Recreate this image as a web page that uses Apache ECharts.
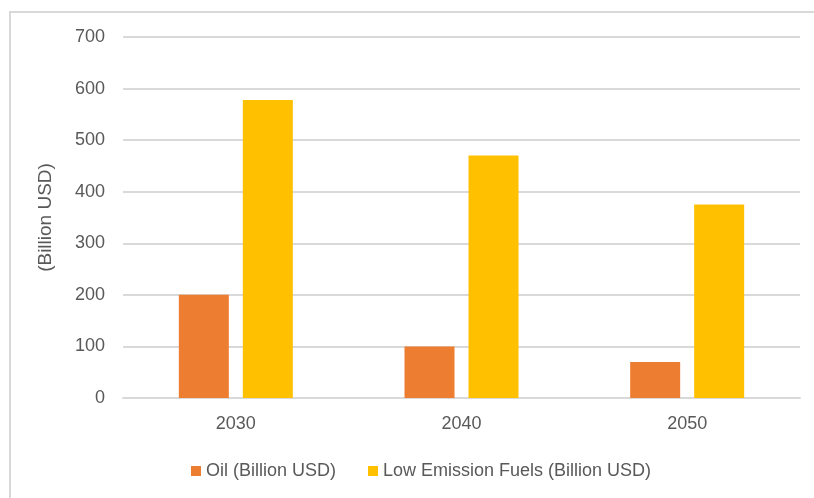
<!DOCTYPE html>
<html>
<head>
<meta charset="utf-8">
<script src="https://cdn.jsdelivr.net/npm/echarts@6/dist/echarts.min.js"></script>
<style>
html,body{margin:0;padding:0;background:#fff;}
#chart{width:814px;height:498px;}
</style>
</head>
<body>
<div id="chart"></div>
<script>
var categories = ['2030', '2040', '2050'];
var oilValues = [200, 100, 70];
var lowEmissionValues = [578, 470, 375];
var seriesNames = ['Oil (Billion USD)', 'Low Emission Fuels (Billion USD)'];
var yAxisTitle = '(Billion USD)';

var textColor = '#595959';
var fontFamily = '"Liberation Sans", Arial, sans-serif';
var chart = echarts.init(document.getElementById('chart'));
chart.setOption({
  backgroundColor: '#ffffff',
  animation: false,
  textStyle: { fontFamily: fontFamily, color: textColor },
  graphic: [{
    type: 'rect',
    shape: { x: 10, y: 12, width: 900, height: 600 },
    style: { fill: 'none', stroke: '#d9d9d9', lineWidth: 2 },
    silent: true,
    z: -1
  }],
  grid: { left: 123, right: 14, top: 37, bottom: 100 },
  legend: {
    data: seriesNames,
    left: 186,
    top: 457,
    itemWidth: 10,
    itemHeight: 10,
    itemGap: 32,
    icon: 'rect',
    textStyle: { color: textColor, fontSize: 18, fontFamily: fontFamily }
  },
  xAxis: {
    type: 'category',
    data: categories,
    axisLine: { lineStyle: { color: '#d9d9d9', width: 2 } },
    axisTick: { show: false },
    axisLabel: { color: textColor, fontSize: 18, margin: 17, fontFamily: fontFamily }
  },
  yAxis: {
    type: 'value',
    min: 0,
    max: 700,
    interval: 100,
    name: yAxisTitle,
    nameLocation: 'middle',
    nameGap: 68,
    nameTextStyle: { color: textColor, fontSize: 19, fontFamily: fontFamily },
    axisLine: { show: false },
    axisTick: { show: false },
    axisLabel: { color: textColor, fontSize: 18, margin: 18, fontFamily: fontFamily },
    splitLine: { lineStyle: { color: '#d9d9d9', width: 2 } }
  },
  series: [
    {
      name: seriesNames[0],
      type: 'bar',
      data: oilValues,
      barWidth: 50,
      barGap: '28%',
      itemStyle: { color: '#ed7d31' }
    },
    {
      name: seriesNames[1],
      type: 'bar',
      data: lowEmissionValues,
      barWidth: 50,
      itemStyle: { color: '#ffc000' }
    }
  ]
});
</script>
</body>
</html>
